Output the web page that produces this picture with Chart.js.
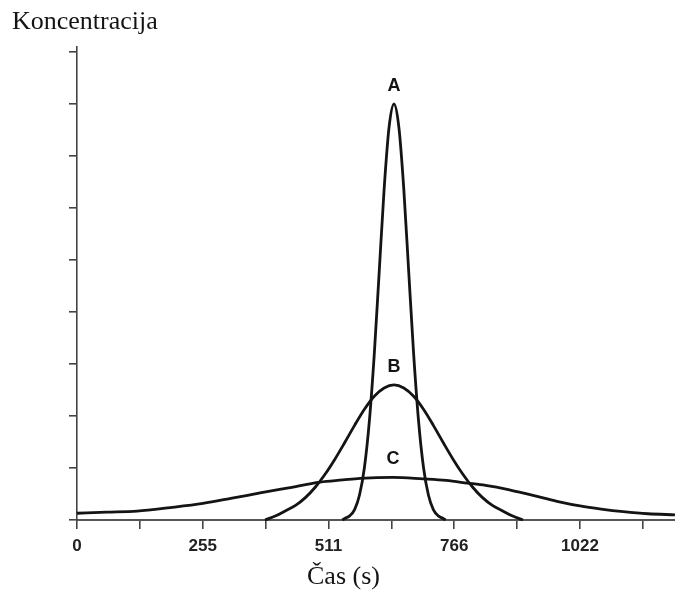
<!DOCTYPE html>
<html>
<head>
<meta charset="utf-8">
<title>Koncentracija</title>
<script src="https://cdn.jsdelivr.net/npm/chart.js@4.4.1/dist/chart.umd.min.js"></script>
<style>
  html, body { margin: 0; padding: 0; background: #fff; }
  #wrap { width: 675px; height: 590px; }
</style>
</head>
<body>
<div id="wrap"><canvas id="chart" width="675" height="590"></canvas></div>
<script>
// values: time in s, concentration in y-tick units
const seriesNames = ['A', 'B', 'C'];

const aTime = [539, 544, 554, 564, 574, 584, 594, 604, 614, 624, 634, 644, 654, 664, 674, 684, 694, 704, 714, 724, 734, 744, 749];
const aConc = [0, 0.03, 0.08, 0.20, 0.48, 1.01, 1.90, 3.19, 4.77, 6.36, 7.55, 8.00, 7.55, 6.36, 4.77, 3.19, 1.90, 1.01, 0.48, 0.20, 0.08, 0.03, 0];

const bTime = [382, 404, 424, 444, 464, 484, 504, 524, 544, 564, 584, 604, 624, 644, 664, 684, 704, 724, 744, 764, 784, 804, 824, 844, 864, 884, 906];
const bConc = [0, 0.08, 0.18, 0.28, 0.43, 0.63, 0.88, 1.17, 1.49, 1.82, 2.13, 2.38, 2.54, 2.60, 2.54, 2.38, 2.13, 1.82, 1.49, 1.17, 0.88, 0.63, 0.43, 0.28, 0.18, 0.08, 0];

const cTime = [0, 60, 122, 190, 256, 315, 372, 430, 494, 540, 575, 642, 703, 750, 793, 830, 874, 910, 941, 980, 1022, 1065, 1110, 1160, 1215];
const cConc = [0.13, 0.15, 0.17, 0.24, 0.32, 0.42, 0.52, 0.62, 0.73, 0.77, 0.80, 0.82, 0.79, 0.76, 0.71, 0.665, 0.59, 0.51, 0.44, 0.35, 0.27, 0.21, 0.16, 0.12, 0.10];

// axis ticks: labelled every 255.5 s, minor tick in between
const xTickValues = [0, 127.75, 255.5, 383.25, 511, 638.75, 766.5, 894.25, 1022, 1149.75];
const xTickLabels = ['0', '', '255', '', '511', '', '766', '', '1022', ''];
const yTickValues = [0, 1, 2, 3, 4, 5, 6, 7, 8, 9];

const toPoints = (xs, ys) => xs.map((x, i) => ({ x: x, y: ys[i] }));

const serif = '"Liberation Serif", "Times New Roman", serif';
const sans = '"Liberation Sans", Arial, sans-serif';
const ink = '#141414';

// letter above the top of each curve
const peakLabels = {
    id: 'peakLabels',
    afterDatasetsDraw(chart) {
        const ctx = chart.ctx;
        ctx.save();
        ctx.font = 'bold 18px ' + sans;
        ctx.fillStyle = ink;
        ctx.textAlign = 'center';
        ctx.textBaseline = 'middle';
        chart.data.datasets.forEach((ds, i) => {
            const pts = chart.getDatasetMeta(i).data;
            let top = pts[0];
            pts.forEach(p => { if (p.y < top.y) top = p; });
            ctx.fillText(ds.label, top.x, top.y - 18);
        });
        ctx.restore();
    }
};

const lineStyle = {
    borderColor: ink,
    borderWidth: 2.8,
    pointRadius: 0,
    fill: false,
    cubicInterpolationMode: 'monotone',
    clip: false
};

new Chart(document.getElementById('chart').getContext('2d'), {
    type: 'line',
    data: {
        datasets: [
            { label: seriesNames[0], data: toPoints(aTime, aConc), ...lineStyle },
            { label: seriesNames[1], data: toPoints(bTime, bConc), ...lineStyle },
            { label: seriesNames[2], data: toPoints(cTime, cConc), ...lineStyle }
        ]
    },
    options: {
        responsive: false,
        animation: false,
        devicePixelRatio: 1,
        layout: { padding: { left: 12, right: 0, top: 0, bottom: 0 } },
        scales: {
            x: {
                type: 'linear',
                min: 0,
                max: 1215,
                afterBuildTicks: (scale) => { scale.ticks = xTickValues.map(v => ({ value: v })); },
                afterFit: (scale) => { scale.height = 42; },
                border: { display: true, color: '#555', width: 2 },
                grid: { drawOnChartArea: false, drawTicks: true, tickLength: 9, color: '#444', lineWidth: 1.6 },
                ticks: {
                    padding: 7,
                    color: '#222',
                    maxRotation: 0,
                    autoSkip: false,
                    font: { family: sans, size: 17, weight: 'bold' },
                    callback: (v, i) => xTickLabels[i]
                }
            },
            y: {
                min: 0,
                max: 9.1,
                afterBuildTicks: (scale) => { scale.ticks = yTickValues.map(v => ({ value: v })); },
                afterFit: (scale) => { scale.width = 65; },
                border: { display: true, color: '#444', width: 1.6 },
                grid: { drawOnChartArea: false, drawTicks: true, tickLength: 8, color: '#444', lineWidth: 1.6 },
                ticks: { display: false }
            }
        },
        plugins: {
            legend: { display: false },
            tooltip: { enabled: false },
            title: {
                display: true,
                text: 'Koncentracija',
                align: 'start',
                color: ink,
                font: { family: serif, size: 26, weight: 'normal', lineHeight: 1.0 },
                padding: { top: 9, bottom: 11.8 }
            },
            subtitle: {
                display: true,
                text: 'Čas (s)',
                position: 'bottom',
                align: 'center',
                color: ink,
                font: { family: serif, size: 26, weight: 'normal', lineHeight: 1.0 },
                padding: { top: 2, bottom: 0 }
            }
        }
    },
    plugins: [peakLabels]
});
</script>
</body>
</html>
